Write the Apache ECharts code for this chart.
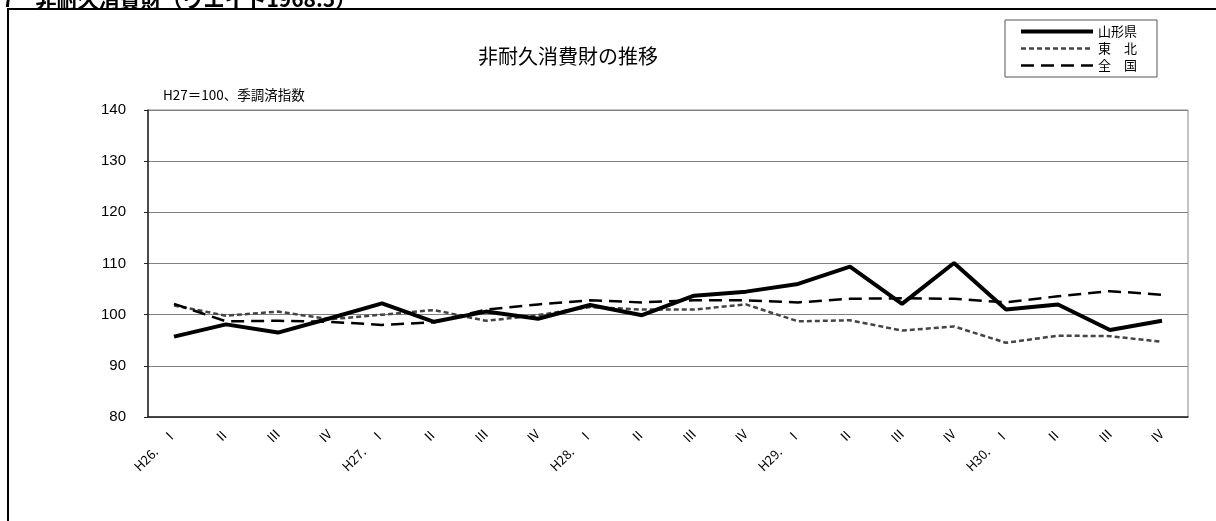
<!DOCTYPE html>
<html>
<head>
<meta charset="utf-8">
<script src="https://cdn.jsdelivr.net/npm/echarts@6/dist/echarts.min.js"></script>
<style>
html,body{margin:0;padding:0;background:#fff;}
#c{width:1216px;height:521px;}
</style>
</head>
<body>
<div id="c"></div>
<script>
const categories = ["H26.\u3000Ⅰ","Ⅱ","Ⅲ","Ⅳ","H27.\u3000Ⅰ","Ⅱ","Ⅲ","Ⅳ","H28.\u3000Ⅰ","Ⅱ","Ⅲ","Ⅳ","H29.\u3000Ⅰ","Ⅱ","Ⅲ","Ⅳ","H30.\u3000Ⅰ","Ⅱ","Ⅲ","Ⅳ"];
const yamagata = [95.7, 98.1, 96.5, 99.3, 102.2, 98.6, 100.6, 99.2, 101.9, 99.9, 103.7, 104.5, 106.0, 109.4, 102.1, 110.1, 101.0, 102.0, 97.0, 98.8];
const tohoku   = [101.8, 99.8, 100.6, 99.1, 100.0, 100.9, 98.8, 99.9, 101.5, 101.0, 101.0, 102.0, 98.7, 98.9, 96.9, 97.7, 94.5, 95.9, 95.8, 94.7];
const zenkoku  = [102.1, 98.7, 98.8, 98.6, 98.0, 98.5, 101.0, 102.0, 102.8, 102.4, 102.8, 102.8, 102.4, 103.1, 103.2, 103.1, 102.4, 103.6, 104.6, 103.9];
const yTicks = [80, 140, 10];
const seriesNames = ["山形県", "東\u3000北", "全\u3000国"];

const FONT = "'Liberation Sans','Noto Sans CJK JP',sans-serif";
const JFONT = "'Noto Sans CJK JP','Liberation Sans',sans-serif";

const styles = [
  { color: '#000', width: 4, type: 'solid' },
  { color: '#444', width: 2.5, type: [5, 3] },
  { color: '#000', width: 2.5, type: [13, 7] }
];

const chart = echarts.init(document.getElementById('c'));
chart.setOption({
  animation: false,
  backgroundColor: '#fff',
  grid: { left: 148, right: 28, top: 110, bottom: 104, show: true, borderColor: '#888', borderWidth: 1 },
  legend: {
    orient: 'vertical',
    left: 1005, top: 20,
    padding: [5, 20, 5, 14],
    itemWidth: 72, itemHeight: 14, itemGap: 4,
    borderColor: '#555', borderWidth: 1,
    itemStyle: { opacity: 0 },
    textStyle: { fontSize: 13, color: '#000', fontFamily: JFONT },
    data: seriesNames.map((n, i) => ({ name: n, lineStyle: { color: styles[i].color, width: styles[i].width, type: styles[i].type } }))
  },
  xAxis: {
    type: 'category',
    data: categories,
    axisLine: { lineStyle: { color: '#222', width: 1.5 } },
    axisTick: { inside: true, length: 4, lineStyle: { color: '#222' } },
    axisLabel: { interval: 0, rotate: 45, fontSize: 13, color: '#000', margin: 14, fontFamily: JFONT }
  },
  yAxis: {
    type: 'value',
    min: yTicks[0], max: yTicks[1], interval: yTicks[2],
    axisLine: { show: true, lineStyle: { color: '#222', width: 1.5 } },
    axisTick: { show: true, length: 4, lineStyle: { color: '#222' } },
    axisLabel: { fontSize: 15, color: '#000', margin: 22, fontFamily: FONT },
    splitLine: { lineStyle: { color: '#808080', width: 1 } }
  },
  series: [
    { name: seriesNames[0], type: 'line', data: yamagata, symbol: 'none', z: 5,
      lineStyle: styles[0], itemStyle: { color: '#000' } },
    { name: seriesNames[1], type: 'line', data: tohoku, symbol: 'none', z: 3,
      lineStyle: styles[1], itemStyle: { color: '#444' } },
    { name: seriesNames[2], type: 'line', data: zenkoku, symbol: 'none', z: 4,
      lineStyle: styles[2], itemStyle: { color: '#000' } }
  ],
  graphic: [
    { type: 'rect', shape: { x: 8, y: 9, width: 1400, height: 700 },
      style: { fill: 'none', stroke: '#000', lineWidth: 2 }, silent: true },
    { type: 'text', left: 2, top: -11,
      style: { text: '7\u3000非耐久消費財（ウエイト1968.5）', font: 'bold 21px ' + JFONT, fill: '#000' } },
    { type: 'text', x: 568, y: 56,
      style: { text: '非耐久消費財の推移', font: '20px ' + JFONT, fill: '#000', align: 'center', verticalAlign: 'middle' } },
    { type: 'text', x: 163, y: 95,
      style: { text: 'H27＝100、季調済指数', font: '13.5px ' + JFONT, fill: '#000', align: 'left', verticalAlign: 'middle' } }
  ]
});
</script>
</body>
</html>
